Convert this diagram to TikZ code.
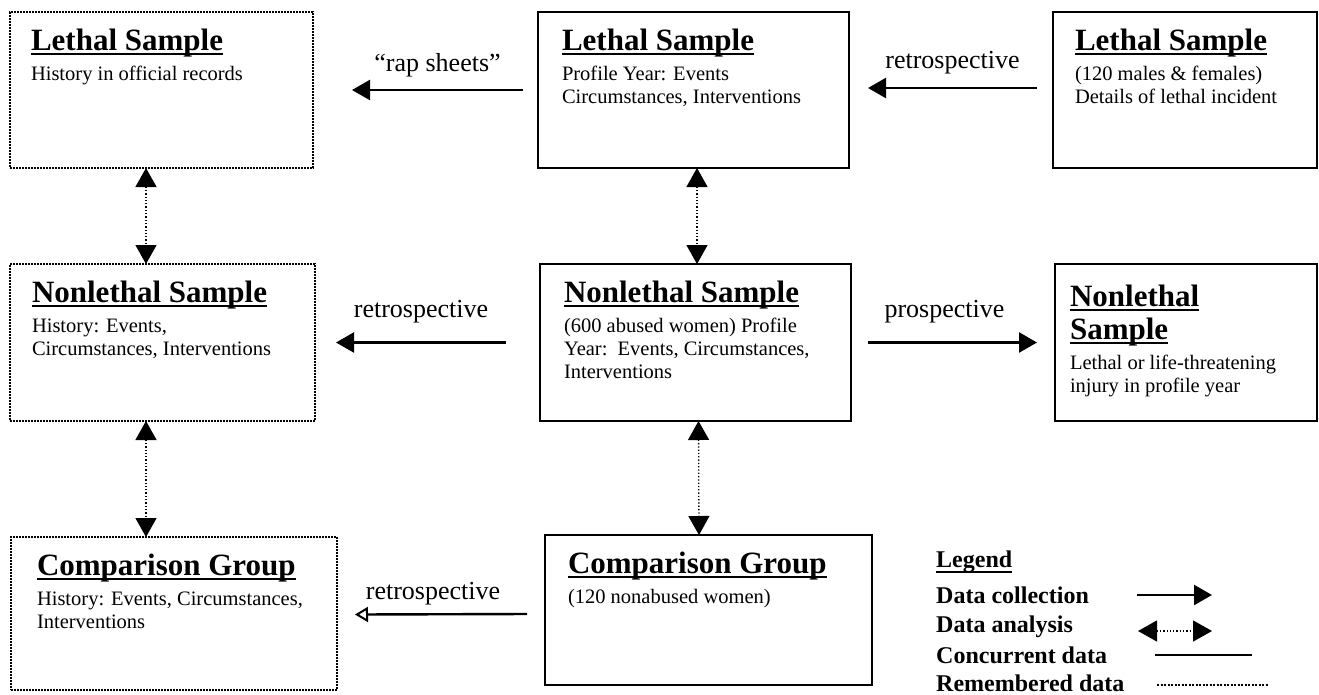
\documentclass[tikz,border=0pt]{standalone}
\usepackage{fontspec}
\setmainfont{Liberation Serif}
\usetikzlibrary{arrows.meta}

\newcommand{\titleline}[1]{\leavevmode\setbox0\hbox{#1}\rlap{\rule[-5pt]{\wd0}{1.8pt}}\box0}
\newcommand{\titlefont}{\fontsize{31}{27}\selectfont\bfseries}
\newcommand{\bodyfont}{\fontsize{20.5}{23}\selectfont}
\newcommand{\panelbody}[4]{\parbox[t][#2][t]{#1}{\raggedright
  {\titlefont\rule{0pt}{38pt}#3\par}\vspace{7pt}{\bodyfont #4\par}}}

\tikzset{
  panel/.style={draw, line width=1.8pt, anchor=north west, inner ysep=0pt, outer sep=0pt},
  histpanel/.style={panel, line width=1.6pt, dash pattern=on 1.6pt off 1.4pt},
  collect/.style={line width=2.4pt, -{Triangle[length=18pt,width=20pt]}},
  recall/.style={line width=2.4pt, -{Triangle[open,length=13pt,width=15pt,line width=2pt]}},
  analysis/.style={line width=1.3pt, dash pattern=on 1.3pt off 2pt,
    {Triangle[length=19pt,width=21pt]}-{Triangle[length=19pt,width=21pt]}},
  lbl/.style={font=\fontsize{26}{30}\selectfont, inner sep=0pt},
  legtext/.style={font=\fontsize{24}{30}\selectfont\bfseries, anchor=west, inner sep=0pt}
}

\begin{document}
\begin{tikzpicture}[x=1pt, y=-1pt]

          \useasboundingbox (0,0) rectangle (1319,694);

          % Top row: lethal sample
          \node[histpanel, inner xsep=21pt] (lethRec) at (10,12)
            {\panelbody{261pt}{156pt}{\titleline{Lethal Sample}}{History in official records}};
          \node[panel, inner xsep=24pt] (lethProf) at (538,12)
            {\panelbody{263pt}{156pt}{\titleline{Lethal Sample}}{Profile Year: Events\\Circumstances, Interventions}};
          \node[panel, inner xsep=22pt] (lethInc) at (1053,12)
            {\panelbody{220pt}{156pt}{\titleline{Lethal Sample}}{(120 males \& females)\\Details of lethal incident}};

          % Middle row: nonlethal sample
          \node[histpanel, inner xsep=22pt] (nonHist) at (10,264)
            {\panelbody{261pt}{157pt}{\titleline{Nonlethal Sample}}{History: Events,\\Circumstances, Interventions}};
          \node[panel, inner xsep=24pt] (nonProf) at (540,264)
            {\panelbody{263pt}{157pt}{\titleline{Nonlethal Sample}}{(600 abused women) Profile\\Year:\ \ Events, Circumstances,\\Interventions}};
          \node[panel, inner xsep=15pt] (nonOut) at (1055,264)
            {\panelbody{232pt}{157pt}{\rule{0pt}{42pt}\titleline{Nonlethal}\\[6pt]\titleline{Sample}}{Lethal or life-threatening\\injury in profile year}};

          % Bottom row: comparison group
          \node[histpanel, inner xsep=26pt] (compHist) at (11,537)
            {\panelbody{274pt}{153pt}{\titleline{Comparison Group}}{History: Events, Circumstances,\\Interventions}};
          \node[panel, inner xsep=23pt] (compProf) at (545,535)
            {\panelbody{281pt}{150pt}{\titleline{Comparison Group}}{(120 nonabused women)}};

          % Horizontal arrows
          \draw[collect] ([xshift=-15pt]lethProf.west) -- node[lbl, yshift=25pt] (rapLbl) {“rap sheets”} ([xshift=39pt]lethRec.east);
          \draw[collect] ([xshift=-16pt,yshift=2pt]lethInc.west) -- node[lbl, yshift=25pt] (retLblA) {retrospective} ([xshift=19pt,yshift=2pt]lethProf.east);
          \draw[collect] ([xshift=-34pt]nonProf.west) -- node[lbl, yshift=31pt] (retLblB) {retrospective} ([xshift=21pt]nonHist.east);
          \draw[collect] ([xshift=17pt]nonProf.east) -- node[lbl, xshift=-8pt, yshift=31pt] (proLbl) {prospective} ([xshift=-18pt]nonOut.west);
          \draw[recall] ([xshift=-18pt,yshift=-4pt]compProf.west) -- node[lbl, xshift=-8pt, yshift=21pt] (retLblC) {retrospective} ([xshift=18pt,yshift=-1pt]compHist.east);

          % Vertical dotted arrows
          \draw[analysis] ([xshift=-15.5pt]lethRec.south) -- ([xshift=-16.5pt]nonHist.north);
          \draw[analysis] ([xshift=-16.5pt]nonHist.south) -- ([xshift=-28pt]compHist.north);
          \draw[analysis] ([xshift=3.5pt]lethProf.south) -- ([xshift=1.5pt]nonProf.north);
          \draw[analysis] ([xshift=3pt]nonProf.south) -- ([xshift=-9.5pt]compProf.north);

          % Legend
          \node[legtext] (legHead) at (936,562) {\titleline{Legend}};
          \node[legtext] (legCol) at (936,595) {Data collection};
          \node[legtext] (legAna) at (936,627) {Data analysis};
          \node[legtext] (legCon) at (936,655) {Concurrent data};
          \node[legtext] (legRem) at (936,683) {Remembered data};
          \coordinate (colA) at (1137,595);
          \coordinate (colB) at (1212,595);
          \coordinate (anaA) at (1138,631);
          \coordinate (anaB) at (1212,631);
          \coordinate (conA) at (1155,655);
          \coordinate (conB) at (1252,655);
          \coordinate (remA) at (1157,685);
          \coordinate (remB) at (1268,685);
          \draw[collect] (colA) -- (colB);
          \draw[analysis] (anaA) -- (anaB);
          \draw[line width=2pt] (conA) -- (conB);
          \draw[line width=2pt, dash pattern=on 2pt off 1.5pt] (remA) -- (remB);

\end{tikzpicture}
\end{document}
